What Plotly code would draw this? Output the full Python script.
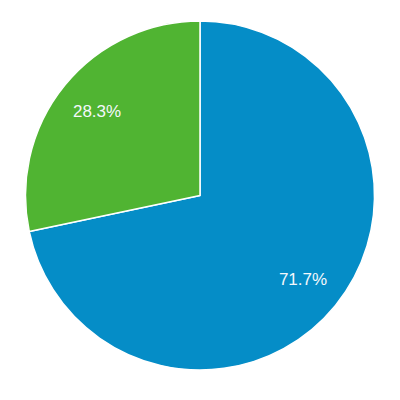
import plotly.graph_objects as go

labels = ["A", "B"]
values = [71.7, 28.3]
colors = ["#058DC7", "#50B432"]

fig = go.Figure()
fig.add_trace(go.Pie(
    labels=labels,
    values=values,
    sort=False,
    direction="clockwise",
    rotation=0,
    marker=dict(colors=colors, line=dict(color="white", width=1.5)),
    textinfo="none",
    hoverinfo="label+percent",
    showlegend=False,
))
fig.add_trace(go.Pie(
    labels=labels,
    values=values,
    sort=False,
    direction="clockwise",
    rotation=0,
    hole=0.52,
    marker=dict(colors=["rgba(0,0,0,0)"] * len(values), line=dict(width=0)),
    textinfo="percent",
    texttemplate="%{percent:.1%}",
    textposition="inside",
    insidetextorientation="horizontal",
    textfont=dict(color="#F4F8FC", size=17, family="Liberation Sans, Arial, sans-serif"),
    hoverinfo="skip",
    showlegend=False,
))
fig.update_layout(
    width=400, height=400,
    margin=dict(l=17, r=33, t=13, b=38),
    paper_bgcolor="white", plot_bgcolor="white",
    showlegend=False,
)
fig.write_html("out.html")
